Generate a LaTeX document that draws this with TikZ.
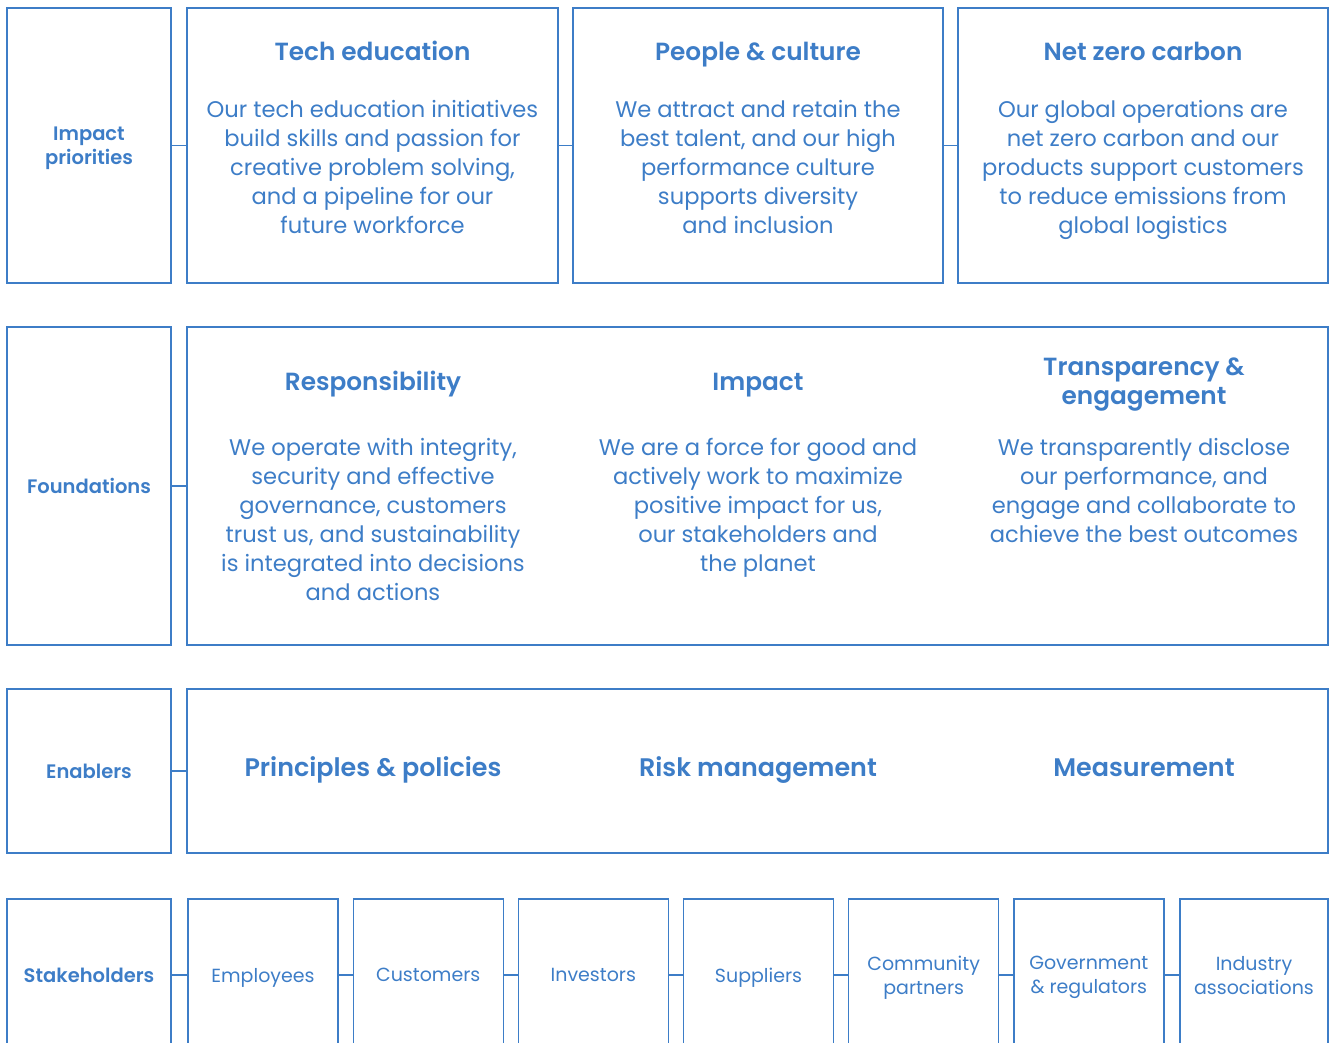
\documentclass[tikz,border=0pt]{standalone}
\usepackage{fontspec}
\setmainfont{Poppins}[BoldFont={Poppins SemiBold}]
\definecolor{brand}{RGB}{61,125,199}

\begin{document}
\begin{tikzpicture}[x=1pt,y=-1pt,
  box/.style={draw=brand, line width=1.4pt, inner sep=0pt, text=brand, align=center},
  link/.style={draw=brand, line width=1.4pt},
  side/.style={box, minimum width=164pt, text depth=0pt, font=\fontsize{19.5}{24}\selectfont\bfseries},
  stake/.style={box, minimum width=150pt, minimum height=152pt, text depth=0pt, font=\fontsize{19}{24}\selectfont},
  head/.style={text=brand, align=center, inner sep=0pt, anchor=base, font=\fontsize{24.8}{29.5}\selectfont\bfseries},
  body/.style={text=brand, align=center, inner sep=0pt, anchor=north, font=\fontsize{22.6}{29}\selectfont}]
  \useasboundingbox (0,0) rectangle (1331,1043);
  \clip (0,0) rectangle (1331,1043);
  % impact priorities
  \node[side, minimum height=275pt] (pri) at (89,145.5) {Impact\\priorities};
  \node[box, minimum width=371pt, minimum height=275pt] (tech) at (372.5,145.5) {};
  \node[box, minimum width=370pt, minimum height=275pt] (people) at (758,145.5) {};
  \node[box, minimum width=370pt, minimum height=275pt] (carbon) at (1143,145.5) {};
  \node[head] (techh) at (372.5,61) {Tech education};
  \node[body] (techb) at (372.5,100.5) {Our tech education initiatives\\build skills and passion for\\creative problem solving,\\and a pipeline for our\\future workforce};
  \node[head] (peopleh) at (758,61) {People \& culture};
  \node[body] (peopleb) at (758,100.5) {We attract and retain the\\best talent, and our high\\performance culture\\supports diversity\\and inclusion};
  \node[head] (carbonh) at (1143,61) {Net zero carbon};
  \node[body] (carbonb) at (1143,100.5) {Our global operations are\\net zero carbon and our\\products support customers\\to reduce emissions from\\global logistics};
  \draw[link] (pri.east) -- (tech.west);
  \draw[link] (tech.east) -- (people.west);
  \draw[link] (people.east) -- (carbon.west);
  % foundations
  \node[side, minimum height=318pt] (fnd) at (89,486) {Foundations};
  \node[box, minimum width=1141pt, minimum height=318pt] (fndall) at (757.5,486) {};
  \node[head] (resph) at (373,390) {Responsibility};
  \node[body] (respb) at (373,438.5) {We operate with integrity,\\security and effective\\governance, customers\\trust us, and sustainability\\is integrated into decisions\\and actions};
  \node[head] (imph) at (758,390) {Impact};
  \node[body] (impb) at (758,438.5) {We are a force for good and\\actively work to maximize\\positive impact for us,\\our stakeholders and\\the planet};
  \node[head, anchor=north] (transh) at (1144,357.5) {Transparency \&\\engagement};
  \node[body] (transb) at (1144,438.5) {We transparently disclose\\our performance, and\\engage and collaborate to\\achieve the best outcomes};
  \draw[link] (fnd.east) -- (fndall.west);
  % enablers
  \node[side, minimum height=164pt] (enb) at (89,771) {Enablers};
  \node[box, minimum width=1141pt, minimum height=164pt] (enball) at (757.5,771) {};
  \node[head, font=\fontsize{25.4}{30}\selectfont\bfseries] (pol) at (373,776) {Principles \& policies};
  \node[head, font=\fontsize{25.4}{30}\selectfont\bfseries] (risk) at (758,776) {Risk management};
  \node[head, font=\fontsize{25.4}{30}\selectfont\bfseries] (meas) at (1144,776) {Measurement};
  \draw[link] (enb.east) -- (enball.west);
  % stakeholders
  \node[side, minimum height=152pt] (stk) at (89,975) {Stakeholders};
  \node[stake] (s1) at (263,975) {Employees};
  \node[stake] (s2) at (428.2,975) {Customers};
  \node[stake] (s3) at (593.3,975) {Investors};
  \node[stake] (s4) at (758.5,975) {Suppliers};
  \node[stake] (s5) at (923.7,975) {Community\\partners};
  \node[stake] (s6) at (1088.8,975) {Government\\\& regulators};
  \node[stake, minimum width=148pt] (s7) at (1254,975) {Industry\\associations};
  \draw[link] (stk.east) -- (s1.west);
  \foreach \a/\b in {s1/s2,s2/s3,s3/s4,s4/s5,s5/s6,s6/s7}
    \draw[link] (\a.east) -- (\b.west);
\end{tikzpicture}
\end{document}
